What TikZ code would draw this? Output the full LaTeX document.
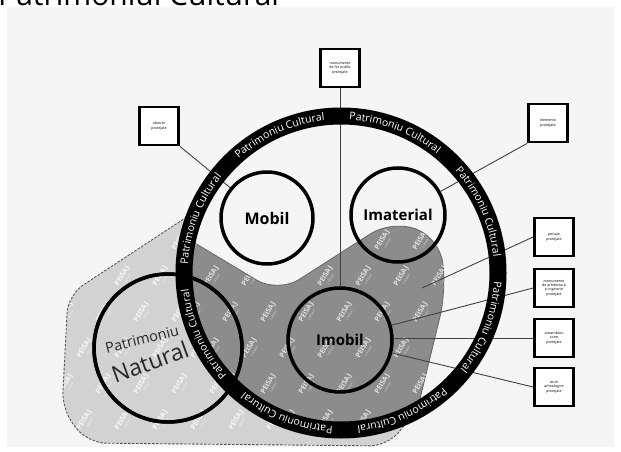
\documentclass[tikz,border=0pt]{standalone}
\usepackage{fontspec}
\setmainfont{Open Sans}
\setsansfont{Open Sans}
\usetikzlibrary{decorations.text,calc}
\definecolor{bgc}{HTML}{F5F5F5}
\definecolor{lightc}{HTML}{D2D2D2}
\definecolor{darkc}{HTML}{8C8C8C}
\definecolor{edgec}{HTML}{555555}
\begin{document}
\begin{tikzpicture}[x=1pt,y=-1pt,
  circ/.style={circle, draw=black, line width=3.5pt, inner sep=0pt},
  infobox/.style={draw=black, line width=2.8pt, fill=white, minimum width=39pt, minimum height=38pt, align=center, inner sep=0pt, font=\fontsize{3.6}{4.3}\selectfont},
  conn/.style={draw=black!75, line width=0.9pt},
  wm/.style={rotate=60, text=white, align=center, inner sep=0pt, font=\bfseries\fontsize{7}{6}\selectfont},
  big/.style={font=\bfseries\fontsize{16}{18}\selectfont}]
\useasboundingbox (0,0) rectangle (621,452);
\clip (0,0) rectangle (621,452);
\fill[white] (0,0) rectangle (621,452);
\fill[bgc] (7,7) rectangle (614,447);
\node[anchor=base west, inner sep=0pt, font=\fontsize{30}{36}\selectfont] (title) at (-2,6) {Patrimoniul Cultural};
\coordinate (c) at (341,273);
% light blob (natural landscape)
\fill[lightc, rounded corners=18] (205,205) -- (68,295) -- (62,410) -- (88,443) -- (388,446) -- (440,380) -- cycle;
\begin{scope}
  \clip[rounded corners=18] (205,205) -- (68,295) -- (62,410) -- (88,443) -- (388,446) -- (440,380) -- cycle;
  \foreach \i in {0,...,11}{\foreach \j in {0,...,6}{
    \pgfmathsetmacro\xx{48+38*\i+19*mod(\j,2)}
    \pgfmathsetmacro\yy{205+36*\j}
    \node[wm, opacity=.85] at (\xx,\yy) {PEISAJ\\[-1pt]{\mdseries\fontsize{3}{3}\selectfont natural}};
  }}
\end{scope}
\draw[edgec, dashed, dash pattern=on 2.5pt off 1.5pt, line width=0.9pt, rounded corners=18] (205,205) -- (68,295) -- (62,410) -- (88,443) -- (388,446) -- (440,380) -- cycle;
% interior of the ring
\fill[bgc] (c) circle[radius=157];
% dark region (cultural landscape)
\begin{scope}
  \clip (c) circle[radius=152];
  \fill[darkc, rounded corners=25] (160,222) -- (278,293) -- (392,220) -- (440,238) -- (446,292) -- (410,440) -- (410,470) -- (140,470) -- cycle;
  \draw[black!60, line width=0.8pt, rounded corners=25] (160,222) -- (278,293) -- (392,220) -- (440,238) -- (446,292) -- (410,440);
  \clip[rounded corners=25] (160,222) -- (278,293) -- (392,220) -- (440,238) -- (446,292) -- (410,440) -- (410,470) -- (140,470) -- cycle;
  \foreach \i in {0,...,8}{\foreach \j in {0,...,6}{
    \pgfmathsetmacro\xx{175+38*\i+19*mod(\j,2)}
    \pgfmathsetmacro\yy{205+36*\j}
    \node[wm, opacity=.75] at (\xx,\yy) {PEISAJ\\[-1pt]{\mdseries\fontsize{3}{3}\selectfont cultural}};
  }}
\end{scope}
% circles
\node[circ, minimum size=92pt, big] (mobil) at (267,218) {Mobil};
\node[circ, minimum size=94pt, big, font=\bfseries\fontsize{15}{18}\selectfont] (imat) at (398,215) {Imaterial};
\node[circ, minimum size=104pt, big, font=\bfseries\fontsize{15}{18}\selectfont] (imobil) at (340,340) {Imobil};
\node[circ, minimum size=148pt] (nat) at (168,348) {};
% boxes
\node[infobox] (b1) at (159,126) {obiecte\\protejate};
\node[infobox] (b2) at (340,68) {monumente\\de for public\\protejate};
\node[infobox] (b3) at (548,123) {elemente\\protejate};
\node[infobox] (peis) at (554,237) {peisaje\\protejate};
\node[infobox] (mon) at (554,288) {monumente\\de arhitectură\\și inginerie\\protejate};
\node[infobox] (ans) at (554,338) {ansambluri\\zone\\protejate};
\node[infobox] (sit) at (554,387) {situri\\arheologice\\protejate};
\coordinate (pz) at (422,288);
% connectors
\draw[conn] (b1.south east) -- (mobil);
\draw[conn] (b2.south) -- (imobil.north);
\draw[conn] (b3.south west) -- (imat);
\draw[conn] (peis.west) -- (pz);
\draw[conn] (mon.west) -- (imobil.16);
\draw[conn] (ans.west) -- (ans.west -| imobil.east);
\draw[conn] (sit.west) -- (imobil.-14);
% ring
\draw[black, line width=17pt] (c) circle[radius=157];
\foreach \a in {0,45,...,315}{
  \path[decorate, decoration={text along path, text color=white, text align=center,
     text={|\fontsize{10.5}{12}\selectfont|Patrimoniu Cultural}}]
     (c) ++(\a:153.2) arc[start angle=\a, end angle=\a+42, radius=153.2];
}
% natural circle over ring
\draw[black, line width=3.5pt] (nat.center) circle[radius=74];
\node[rotate=14, text=black!85, font=\fontsize{14.5}{16}\selectfont] (pn1) at (142,339) {Patrimoniu};
\node[rotate=20, text=black!85, font=\fontsize{23}{27}\selectfont] (pn2) at (150,362) {Natural};
\end{tikzpicture}
\end{document}
